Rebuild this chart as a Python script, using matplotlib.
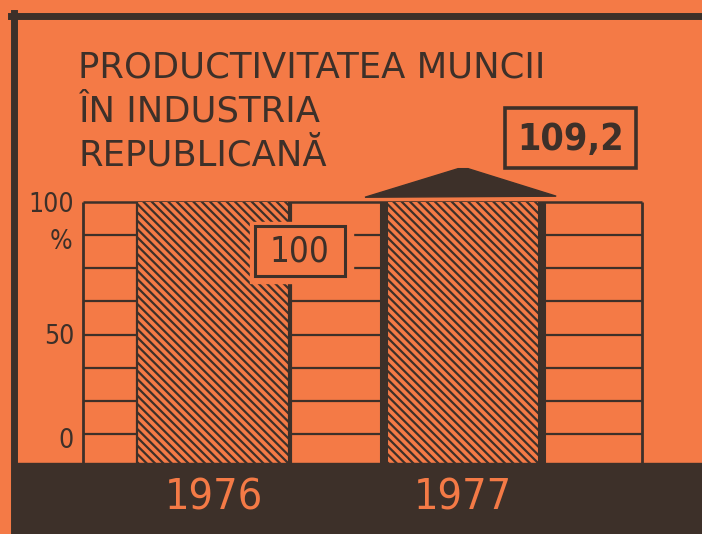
import matplotlib
matplotlib.use("Agg")
import matplotlib.pyplot as plt
from matplotlib.patches import Rectangle, Polygon
from matplotlib.lines import Line2D
from matplotlib.transforms import blended_transform_factory

# ---- date ----
years = ['1976', '1977']
values = [100, 109.2]
value_labels = ['100', '109,2']
ytick_vals = [100, 50, 0]
ytick_labels = ['100', '50', '0']
grid_step = 12.5
title_lines = ['PRODUCTIVITATEA MUNCII', 'ÎN INDUSTRIA', 'REPUBLICANĂ']

ORANGE = '#F47A46'
DARK = '#3D3029'
W, H = 702, 534

plt.rcParams['font.family'] = ['DejaVu Sans']
plt.rcParams['hatch.color'] = DARK
plt.rcParams['hatch.linewidth'] = 1.6

fig = plt.figure(figsize=(W / 100, H / 100), dpi=100, facecolor=ORANGE)


def fx(px):
    return px / W


def fy(py):
    return 1 - py / H


# axa: 0 la 467px, 2.65 px pe unitate
ax = fig.add_axes([fx(83), fy(467), fx(642) - fx(83), 125 * 2.65 / H])
x_left, x_right = -0.523, 1.717
ax.set_xlim(x_left, x_right)
ax.set_ylim(0, 125)
ax.axis('off')

w0, w1 = 0.613, 0.633
xpos = list(range(len(years)))

# grila orizontala doar intre coloane
levels = [grid_step * i for i in range(1, int(100 / grid_step))]
sections = [(x_left, xpos[0] - w0 / 2), (xpos[0] + w0 / 2, xpos[1] - w1 / 2),
            (xpos[1] + w1 / 2, x_right)]
for a, b in sections:
    ax.hlines(levels, a, b, color=DARK, lw=1.6, zorder=1)
ax.hlines(100, x_left, x_right, color=DARK, lw=1.8, zorder=1, clip_on=False)
ax.vlines([x_left, x_right], 0, 100, color=DARK, lw=2, zorder=1, clip_on=False)

# coloane hasurate
for i, v in enumerate(values):
    w = w0 if i == 0 else w1
    ax.bar(xpos[i], min(v, 100), width=w, color=ORANGE, hatch='\\\\\\\\',
           edgecolor=DARK, linewidth=0, zorder=2)
ax.vlines(xpos[0] - w0 / 2, 0, 100, color=DARK, lw=1.6, zorder=2)
ax.vlines(xpos[0] + w0 / 2, 0, 100, color=DARK, lw=3, zorder=2)
ax.vlines([xpos[1] - w1 / 2, xpos[1] + w1 / 2], 0, 100, color=DARK, lw=5.8, zorder=2)

# "acoperis" pentru cresterea peste 100
for i, v in enumerate(values):
    if v > 100:
        base = 102
        apex = base + (v - 100) * 1.15
        roof = Polygon([(xpos[i] - 0.393, base - 0.2), (xpos[i] + 0.373, base + 0.2),
                        (xpos[i] + 0.02, apex), (xpos[i] - 0.02, apex)],
                       closed=True, color=DARK, zorder=3, clip_on=False)
        ax.add_patch(roof)

# eticheta 100 (cu fond care taie coloana)
ax.add_patch(Rectangle((0.146, 69.4), 0.413, 23.05, color=ORANGE, zorder=3))
ax.add_patch(Rectangle((0.166, 72.1), 0.361, 18.8, fc=ORANGE, ec=DARK, lw=2.2, zorder=4))
ax.text(0.3465, 81.5, value_labels[0], ha='center', va='center', fontsize=25,
        fontstretch='condensed', color=DARK, zorder=5)

# eticheta 109,2
ax.add_patch(Rectangle((1.168, 112.8), 0.525, 22.7, fc=ORANGE, ec=DARK, lw=2.6,
                       zorder=4, clip_on=False))
ax.text(1.431, 123.5, value_labels[1], ha='center', va='center', fontsize=27,
        fontweight='bold', fontstretch='condensed', color=DARK, zorder=5)

# axa Y
ytr = ax.get_yaxis_transform()
nudge = {100: -1.1, 50: -0.9, 0: 9.8}
for v, lab in zip(ytick_vals, ytick_labels):
    ax.text(-0.016, v + nudge[v], lab, transform=ytr, ha='right', va='center',
            fontsize=19, fontstretch='condensed', color=DARK)
ax.text(-0.039, 84.9, '%', transform=ytr, ha='center', va='center',
        fontsize=19, fontstretch='condensed', color=DARK)

# banda de jos si chenarul
fig.add_artist(Rectangle((fx(14), 0), 1, fy(463), transform=fig.transFigure,
                         color=DARK, zorder=5))
fig.add_artist(Line2D([fx(11), 1], [fy(15.5), fy(15.5)], color=DARK, lw=5,
                      transform=fig.transFigure, zorder=5))
fig.add_artist(Line2D([fx(14.5), fx(14.5)], [0, fy(12.5)], color=DARK, lw=5,
                      transform=fig.transFigure, zorder=5))

# anii
ttr = blended_transform_factory(ax.transData, fig.transFigure)
for i, yr in enumerate(years):
    fig.text(xpos[i], fy(497), yr, transform=ttr, ha='center', va='center',
             fontsize=31, fontstretch='condensed', color=ORANGE, zorder=6)

# titlu
for k, line in enumerate(title_lines):
    fig.text(fx(78), fy(78 + 44 * k), line, ha='left', va='baseline', fontsize=25.5,
             color=DARK)

fig.savefig('out.png', dpi=100, facecolor=ORANGE)
